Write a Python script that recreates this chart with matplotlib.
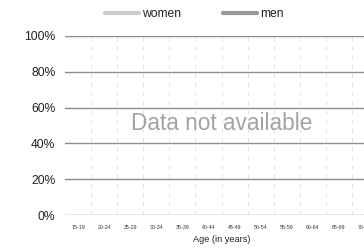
import matplotlib
matplotlib.use('Agg')
import matplotlib.pyplot as plt
from matplotlib.lines import Line2D
import numpy as np

plt.rcParams['font.family'] = ['Liberation Sans', 'DejaVu Sans']

# data
age_groups = ['15-19', '20-24', '25-29', '30-34', '35-39', '40-44',
              '45-49', '50-54', '55-59', '60-64', '65-69', '70-74']
series = ['women', 'men']
series_colors = ['#cccccc', '#999999']
y_ticks = [0, 20, 40, 60, 80, 100]
y_labels = ['0%', '20%', '40%', '60%', '80%', '100%']
message = 'Data not available'

W, H = 364, 248
fig = plt.figure(figsize=(W / 100, H / 100), dpi=100)

# axes in pixel coords (runs past the right edge like the reference)
left, right, top, bottom = 65, 378, 36, 215
ax = fig.add_axes([left / W, 1 - bottom / H, (right - left) / W, (bottom - top) / H])

n = len(age_groups)
ax.set_xlim(-0.5, n - 0.5)
ax.set_ylim(0, 100)

for s in ax.spines.values():
    s.set_visible(False)

# horizontal grid lines
for v in y_ticks:
    ax.axhline(v, color='#8c8c8c', lw=1.0, zorder=2)

# vertical dashed separators between groups
for i in range(n - 1):
    ax.axvline(i + 0.5, color='#dddddd', lw=0.6, dashes=(5, 6), zorder=1)

ax.set_yticks(y_ticks)
ax.set_yticklabels(y_labels, fontsize=8.7, color='#222222')
ax.set_xticks(np.arange(n))
ax.set_xticklabels(age_groups, fontsize=3.8, color='#333333')
ax.tick_params(axis='both', length=0)
ax.tick_params(axis='y', pad=7)
ax.tick_params(axis='x', pad=7)
ax.set_xlabel('Age (in years)', fontsize=6.6, color='#222222', labelpad=4)

ax.text((n - 1) / 2, 47.5, message, ha='center', va='baseline', fontsize=16.3,
        color='#a3a3a3', zorder=3)

# legend drawn by hand at the top
leg_x = [105, 223]
for name, col, x0 in zip(series, series_colors, leg_x):
    fig.add_artist(Line2D([x0 / W, (x0 + 34) / W], [1 - 13 / H, 1 - 13 / H],
                          color=col, lw=3, solid_capstyle='round',
                          transform=fig.transFigure))
    fig.text((x0 + 37) / W, 1 - 14 / H, name, fontsize=8.7, color='#222222',
             ha='left', va='center')

fig.savefig('out.png', dpi=100)
